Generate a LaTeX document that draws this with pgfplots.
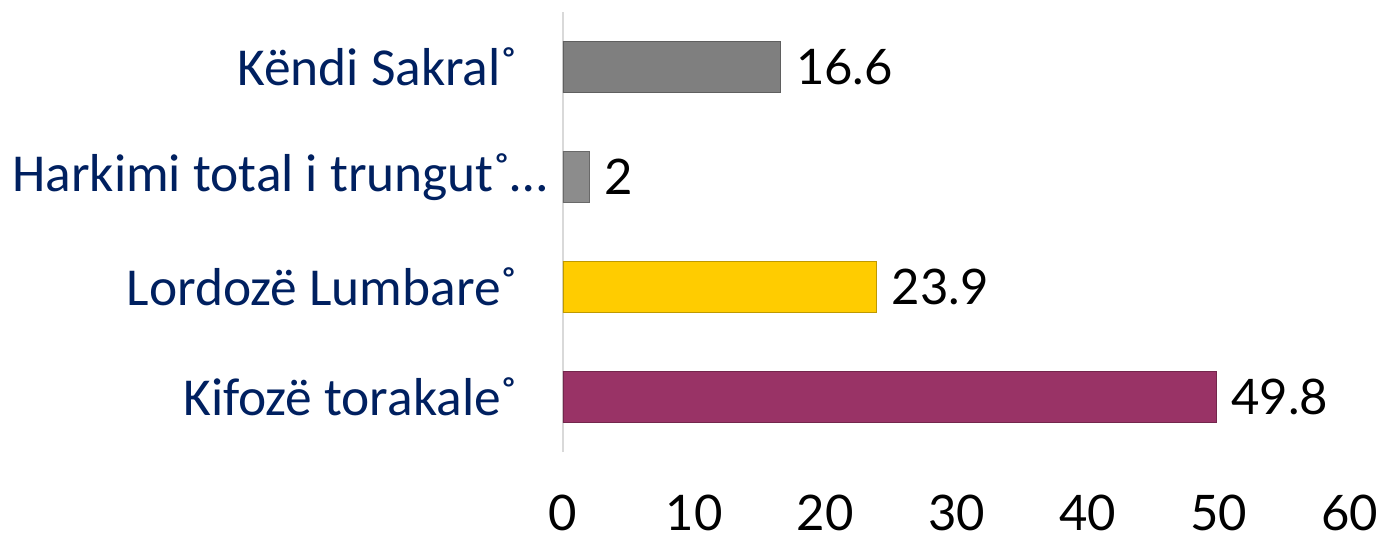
\documentclass[border=0pt]{standalone}
\usepackage{fontspec}
\usepackage{pgfplots}
\pgfplotsset{compat=1.18}
\newfontfamily\lblfont{Carlito}
\newfontfamily\numfont{Lato}
\definecolor{cNavy}{RGB}{0,32,96}
\definecolor{cGrA}{RGB}{127,127,127}
\definecolor{cGrB}{RGB}{140,140,140}
\definecolor{cYel}{RGB}{255,204,0}
\definecolor{cMag}{RGB}{153,51,102}
\begin{document}
\begin{tikzpicture}
\path[use as bounding box] (0,0) rectangle (690.5pt,269pt);
\begin{axis}[
  at={(281.5pt,43pt)}, anchor=south west,
  scale only axis, width=393.5pt, height=220pt,
  xmin=0, xmax=60, ymin=-0.5, ymax=3.5,
  xtick={0,10,20,30,40,50,60},
  ytick={0,1,2,3},
  yticklabels={{Kifozë torakale˚\kern15pt},{Lordozë Lumbare˚\kern15pt},{Harkimi total i trungut˚…},{Këndi Sakral˚\kern15pt}},
  axis lines*=left,
  x axis line style={draw=none},
  y axis line style={draw=black!15, line width=1pt},
  major tick length=0pt,
  /pgf/number format/assume math mode=true,
  xticklabel style={font=\numfont\fontsize{24.5}{28}\selectfont, yshift=-18pt},
  yticklabel style={font=\lblfont\fontsize{26.7}{30}\selectfont, text=cNavy, xshift=-4pt},
  xbar, bar width=25.5pt, bar shift=0pt,
  point meta=x,
  nodes near coords,
  nodes near coords style={font=\numfont\fontsize{24.5}{28}\selectfont, text=black, anchor=west, xshift=4pt},
]
\addplot[fill=cMag, draw=cMag!75!black, line width=0.6pt] coordinates {(49.8,0)};
\addplot[fill=cYel, draw=cYel!75!black, line width=0.6pt] coordinates {(23.9,1)};
\addplot[fill=cGrB, draw=cGrB!75!black, line width=0.6pt] coordinates {(2,2)};
\addplot[fill=cGrA, draw=cGrA!75!black, line width=0.6pt] coordinates {(16.6,3)};
\end{axis}
\end{tikzpicture}
\end{document}
